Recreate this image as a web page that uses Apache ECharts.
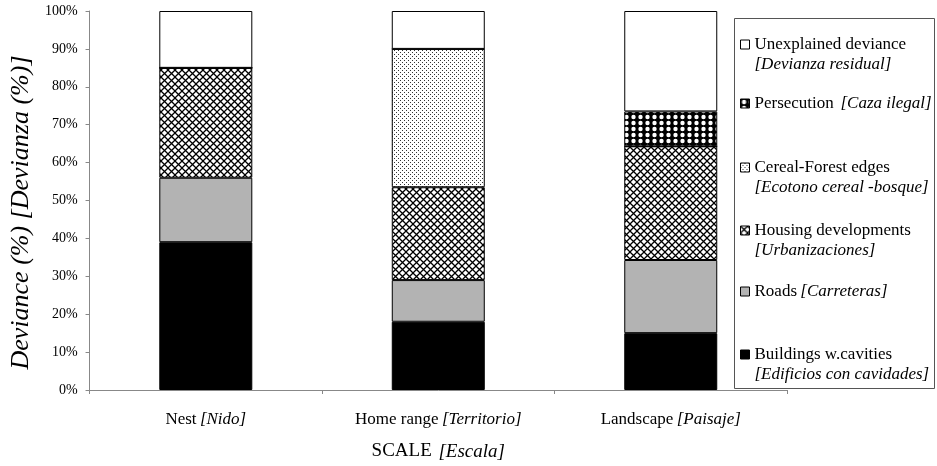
<!DOCTYPE html>
<html><head><meta charset="utf-8">
<script src="https://cdn.jsdelivr.net/npm/echarts@6/dist/echarts.min.js"></script>
<style>html,body{margin:0;padding:0;background:#fff}#c{width:937px;height:466px}</style>
</head><body><div id="c"></div>
<script>
// ---- data ----
var categoriesEn = ['Nest', 'Home range', 'Landscape'];
var categoriesEs = ['Nido', 'Territorio', 'Paisaje'];
var seriesNamesEn = ['Buildings w.cavities', 'Roads', 'Housing developments', 'Cereal-Forest edges', 'Persecution', 'Unexplained deviance'];
var seriesNamesEs = ['Edificios con cavidades', 'Carreteras', 'Urbanizaciones', 'Ecotono cereal -bosque', 'Caza ilegal', 'Devianza residual'];
var buildings = [39, 18, 15];
var roads = [17, 11, 19.3];
var housing = [29, 24.5, 30];
var cerealForest = [0, 36.5, 0];
var persecution = [0, 0, 9.2];
var unexplained = [15, 10, 26.5];
var yTicks = [0, 10, 20, 30, 40, 50, 60, 70, 80, 90, 100];

// ---- patterns ----
function tile(w, h, draw) {
  var c = document.createElement('canvas'); c.width = w; c.height = h;
  var g = c.getContext('2d'); draw(g, w, h); return c;
}
var crossHatch = tile(7, 7, function (g, w, h) {
  g.fillStyle = '#fff'; g.fillRect(0, 0, w, h);
  g.strokeStyle = '#000'; g.lineWidth = 1.3;
  g.beginPath(); g.moveTo(-1, -1); g.lineTo(w + 1, h + 1); g.moveTo(w + 1, -1); g.lineTo(-1, h + 1); g.stroke();
});
var dots = tile(4, 4, function (g, w, h) {
  g.fillStyle = '#fff'; g.fillRect(0, 0, w, h);
  g.fillStyle = '#333'; g.fillRect(0, 0, 1, 1); g.fillRect(2, 2, 1, 1);
});
var checker = tile(7, 6, function (g, w, h) {
  g.fillStyle = '#000'; g.fillRect(0, 0, w, h);
  g.fillStyle = '#fff'; g.beginPath(); g.arc(3.5, 3, 2.2, 0, Math.PI * 2); g.fill();
});
var fills = [
  '#000000',
  '#b3b3b3',
  { image: crossHatch, repeat: 'repeat' },
  { image: dots, repeat: 'repeat' },
  { image: checker, repeat: 'repeat' },
  '#ffffff'
];
var values = [buildings, roads, housing, cerealForest, persecution, unexplained];

var serif = '"Liberation Serif", "Times New Roman", serif';
var series = seriesNamesEn.map(function (n, i) {
  return {
    name: n, type: 'bar', stack: 'all', barWidth: 93,
    data: values[i],
    itemStyle: { color: fills[i], borderColor: '#000', borderWidth: 1 },
    emphasis: { disabled: true }
  };
});

// legend: one component per item, top to bottom
var legendOrder = [5, 4, 3, 2, 1, 0];
var legendTwoLine = { 5: true, 4: false, 3: true, 2: true, 1: false, 0: true };
var legendSep = { 4: '  ', 1: ' ' };
var legendCenters = [43, 102, 166, 229, 290, 353];
var legends = legendOrder.map(function (si, k) {
  var two = legendTwoLine[si];
  return {
    data: [seriesNamesEn[si]],
    left: 740, top: legendCenters[k] - 7,
    padding: 0, itemWidth: 9, itemHeight: 9, icon: 'rect', selectedMode: false,
    itemStyle: { borderColor: '#000', borderWidth: 1 },
    formatter: function (name) {
      return two ? '{a|' + name + '}\n{b|[' + seriesNamesEs[si] + ']}'
                 : '{a|' + name + '}' + legendSep[si] + '{b|[' + seriesNamesEs[si] + ']}';
    },
    textStyle: {
      padding: two ? [20, 0, 0, 0] : 0,
      rich: {
        a: { fontFamily: serif, fontSize: 17, color: '#000', lineHeight: 20 },
        b: { fontFamily: serif, fontSize: 17, fontStyle: 'italic', color: '#000', lineHeight: 20 }
      }
    }
  };
});

var chart = echarts.init(document.getElementById('c'), null, { renderer: 'canvas' });
chart.setOption({
  animation: false,
  backgroundColor: '#fff',
  grid: { left: 88, right: 150, top: 11, bottom: 73 },
  legend: legends,
  graphic: [{
    type: 'rect', left: 734, top: 18, z: -1,
    shape: { width: 200, height: 370 },
    style: { fill: '#fff', stroke: '#555', lineWidth: 1 }
  }],
  xAxis: {
    type: 'category', data: categoriesEn,
    axisLine: { lineStyle: { color: '#888' } },
    axisTick: { show: true, length: 4, lineStyle: { color: '#888' } },
    axisLabel: {
      margin: 21,
      formatter: function (v, i) { return '{r|' + v + '} {i|[' + categoriesEs[i] + ']}'; },
      rich: {
        r: { fontFamily: serif, fontSize: 17, color: '#000' },
        i: { fontFamily: serif, fontSize: 17, fontStyle: 'italic', color: '#000' }
      }
    },
    name: '{r|SCALE}  {i|[Escala]}', nameLocation: 'middle', nameGap: 52,
    nameTextStyle: {
      rich: {
        r: { fontFamily: serif, fontSize: 19, color: '#000' },
        i: { fontFamily: serif, fontSize: 19, fontStyle: 'italic', color: '#000' }
      }
    }
  },
  yAxis: {
    type: 'value', min: yTicks[0], max: yTicks[yTicks.length - 1], interval: 10,
    axisLine: { show: true, lineStyle: { color: '#888' } },
    axisTick: { show: true, length: 4, lineStyle: { color: '#888' } },
    splitLine: { show: false },
    axisLabel: { formatter: '{value}%', fontFamily: serif, fontSize: 14, color: '#000', margin: 12 },
    name: 'Deviance (%) [Devianza (%)]', nameLocation: 'middle', nameGap: 52,
    nameTextStyle: { fontFamily: serif, fontSize: 26, fontStyle: 'italic', color: '#000', padding: [0, 24, 0, 0] }
  },
  series: series
});
</script></body></html>
